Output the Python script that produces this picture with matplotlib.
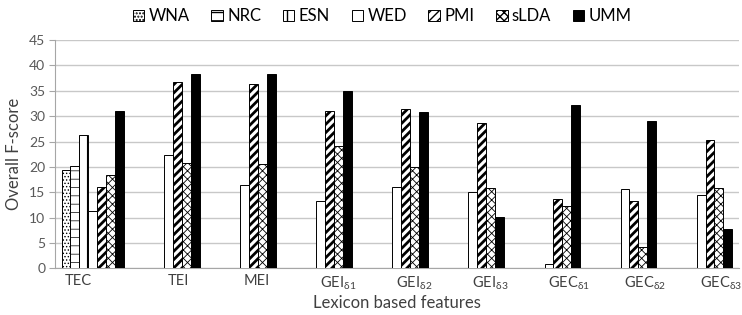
import numpy as np
import matplotlib
matplotlib.use("Agg")
import matplotlib.pyplot as plt

plt.rcParams['font.family'] = ['Lato', 'DejaVu Sans']
plt.rcParams['mathtext.fontset'] = 'custom'
plt.rcParams['mathtext.rm'] = 'Lato'
plt.rcParams['mathtext.it'] = 'Lato'
plt.rcParams['mathtext.fallback'] = 'stixsans'

# categories and series
features = ['TEC', 'TEI', 'MEI', r'GEI$_{\delta1}$', r'GEI$_{\delta2}$', r'GEI$_{\delta3}$',
            r'GEC$_{\delta1}$', r'GEC$_{\delta2}$', r'GEC$_{\delta3}$']
methods = ['WNA', 'NRC', 'ESN', 'WED', 'PMI', 'sLDA', 'UMM']

wna = [19.4, 0, 0, 0, 0, 0, 0, 0, 0]
nrc = [20.2, 0, 0, 0, 0, 0, 0, 0, 0]
esn = [26.2, 0, 0, 0, 0, 0, 0, 0, 0]
wed = [11.3, 22.4, 16.4, 13.2, 16.0, 15.0, 0.9, 15.7, 14.4]
pmi = [16.0, 36.8, 36.3, 31.0, 31.5, 28.6, 13.7, 13.3, 25.3]
slda = [18.4, 20.7, 20.5, 24.2, 20.0, 15.9, 12.2, 4.3, 15.8]
umm = [31.0, 38.3, 38.3, 35.0, 30.9, 10.1, 32.1, 29.0, 7.8]

series = [wna, nrc, esn, wed, pmi, slda, umm]
styles = [
    dict(color='white', hatch='.....', hlw=0.6),
    dict(color='white', hatch='--', hlw=0.5),
    dict(color='white', hatch='||', hlw=0.8),
    dict(color='white', hatch='', hlw=0.6),
    dict(color='white', hatch='////', hlw=2.0),
    dict(color='white', hatch='xxxx', hlw=0.6),
    dict(color='black', hatch='', hlw=0.6),
]

fig = plt.figure(figsize=(7.42, 3.15), dpi=100)
ax = fig.add_axes([0.074, 0.148, 0.922, 0.725])

x = np.arange(len(features))
w = 0.118
handles = []
for i, (vals, st) in enumerate(zip(series, styles)):
    with plt.rc_context({'hatch.linewidth': st['hlw'], 'hatch.color': 'black'}):
        b = ax.bar(x + (i - 3) * w, vals, w, color=st['color'], edgecolor='black',
                   linewidth=0.7, hatch=st['hatch'], label=methods[i], zorder=3)
    handles.append(b)

ax.set_xlim(-0.5, 8.5)
ax.set_ylim(0, 45)
ax.set_yticks(np.arange(0, 46, 5))
ax.yaxis.grid(True, color='#c8c8c8', linewidth=1.0, zorder=0)
ax.set_axisbelow(True)
for s in ['top', 'right']:
    ax.spines[s].set_visible(False)
ax.spines['left'].set_color('#a6a6a6')
ax.spines['bottom'].set_color('#a6a6a6')
ax.tick_params(axis='y', colors='#595959', labelsize=10, length=4, color='#a6a6a6', pad=3)

# category labels sit left-aligned under the first drawn bar of each group
vals_arr = np.array(series)
first = [int(np.argmax(vals_arr[:, j] > 0)) for j in range(len(features))]
ax.set_xticks([])
for j, name in enumerate(features):
    left = x[j] + (first[j] - 3.5) * w + 0.04
    ax.text(left, -1.2, name, ha='left', va='top', fontsize=10.5, color='#404040')

ax.set_ylabel('Overall F-score', fontsize=12, color='#404040', labelpad=5)
fig.text(0.535, 0.012, 'Lexicon based features', ha='center', va='bottom',
         fontsize=12, color='#404040')

fig.legend(handles=handles, labels=methods, loc='center', bbox_to_anchor=(0.515, 0.948),
           ncol=7, frameon=False, fontsize=12, handlelength=0.7, handleheight=0.7,
           handletextpad=0.25, columnspacing=1.3)

fig.savefig('out.png', dpi=100)
